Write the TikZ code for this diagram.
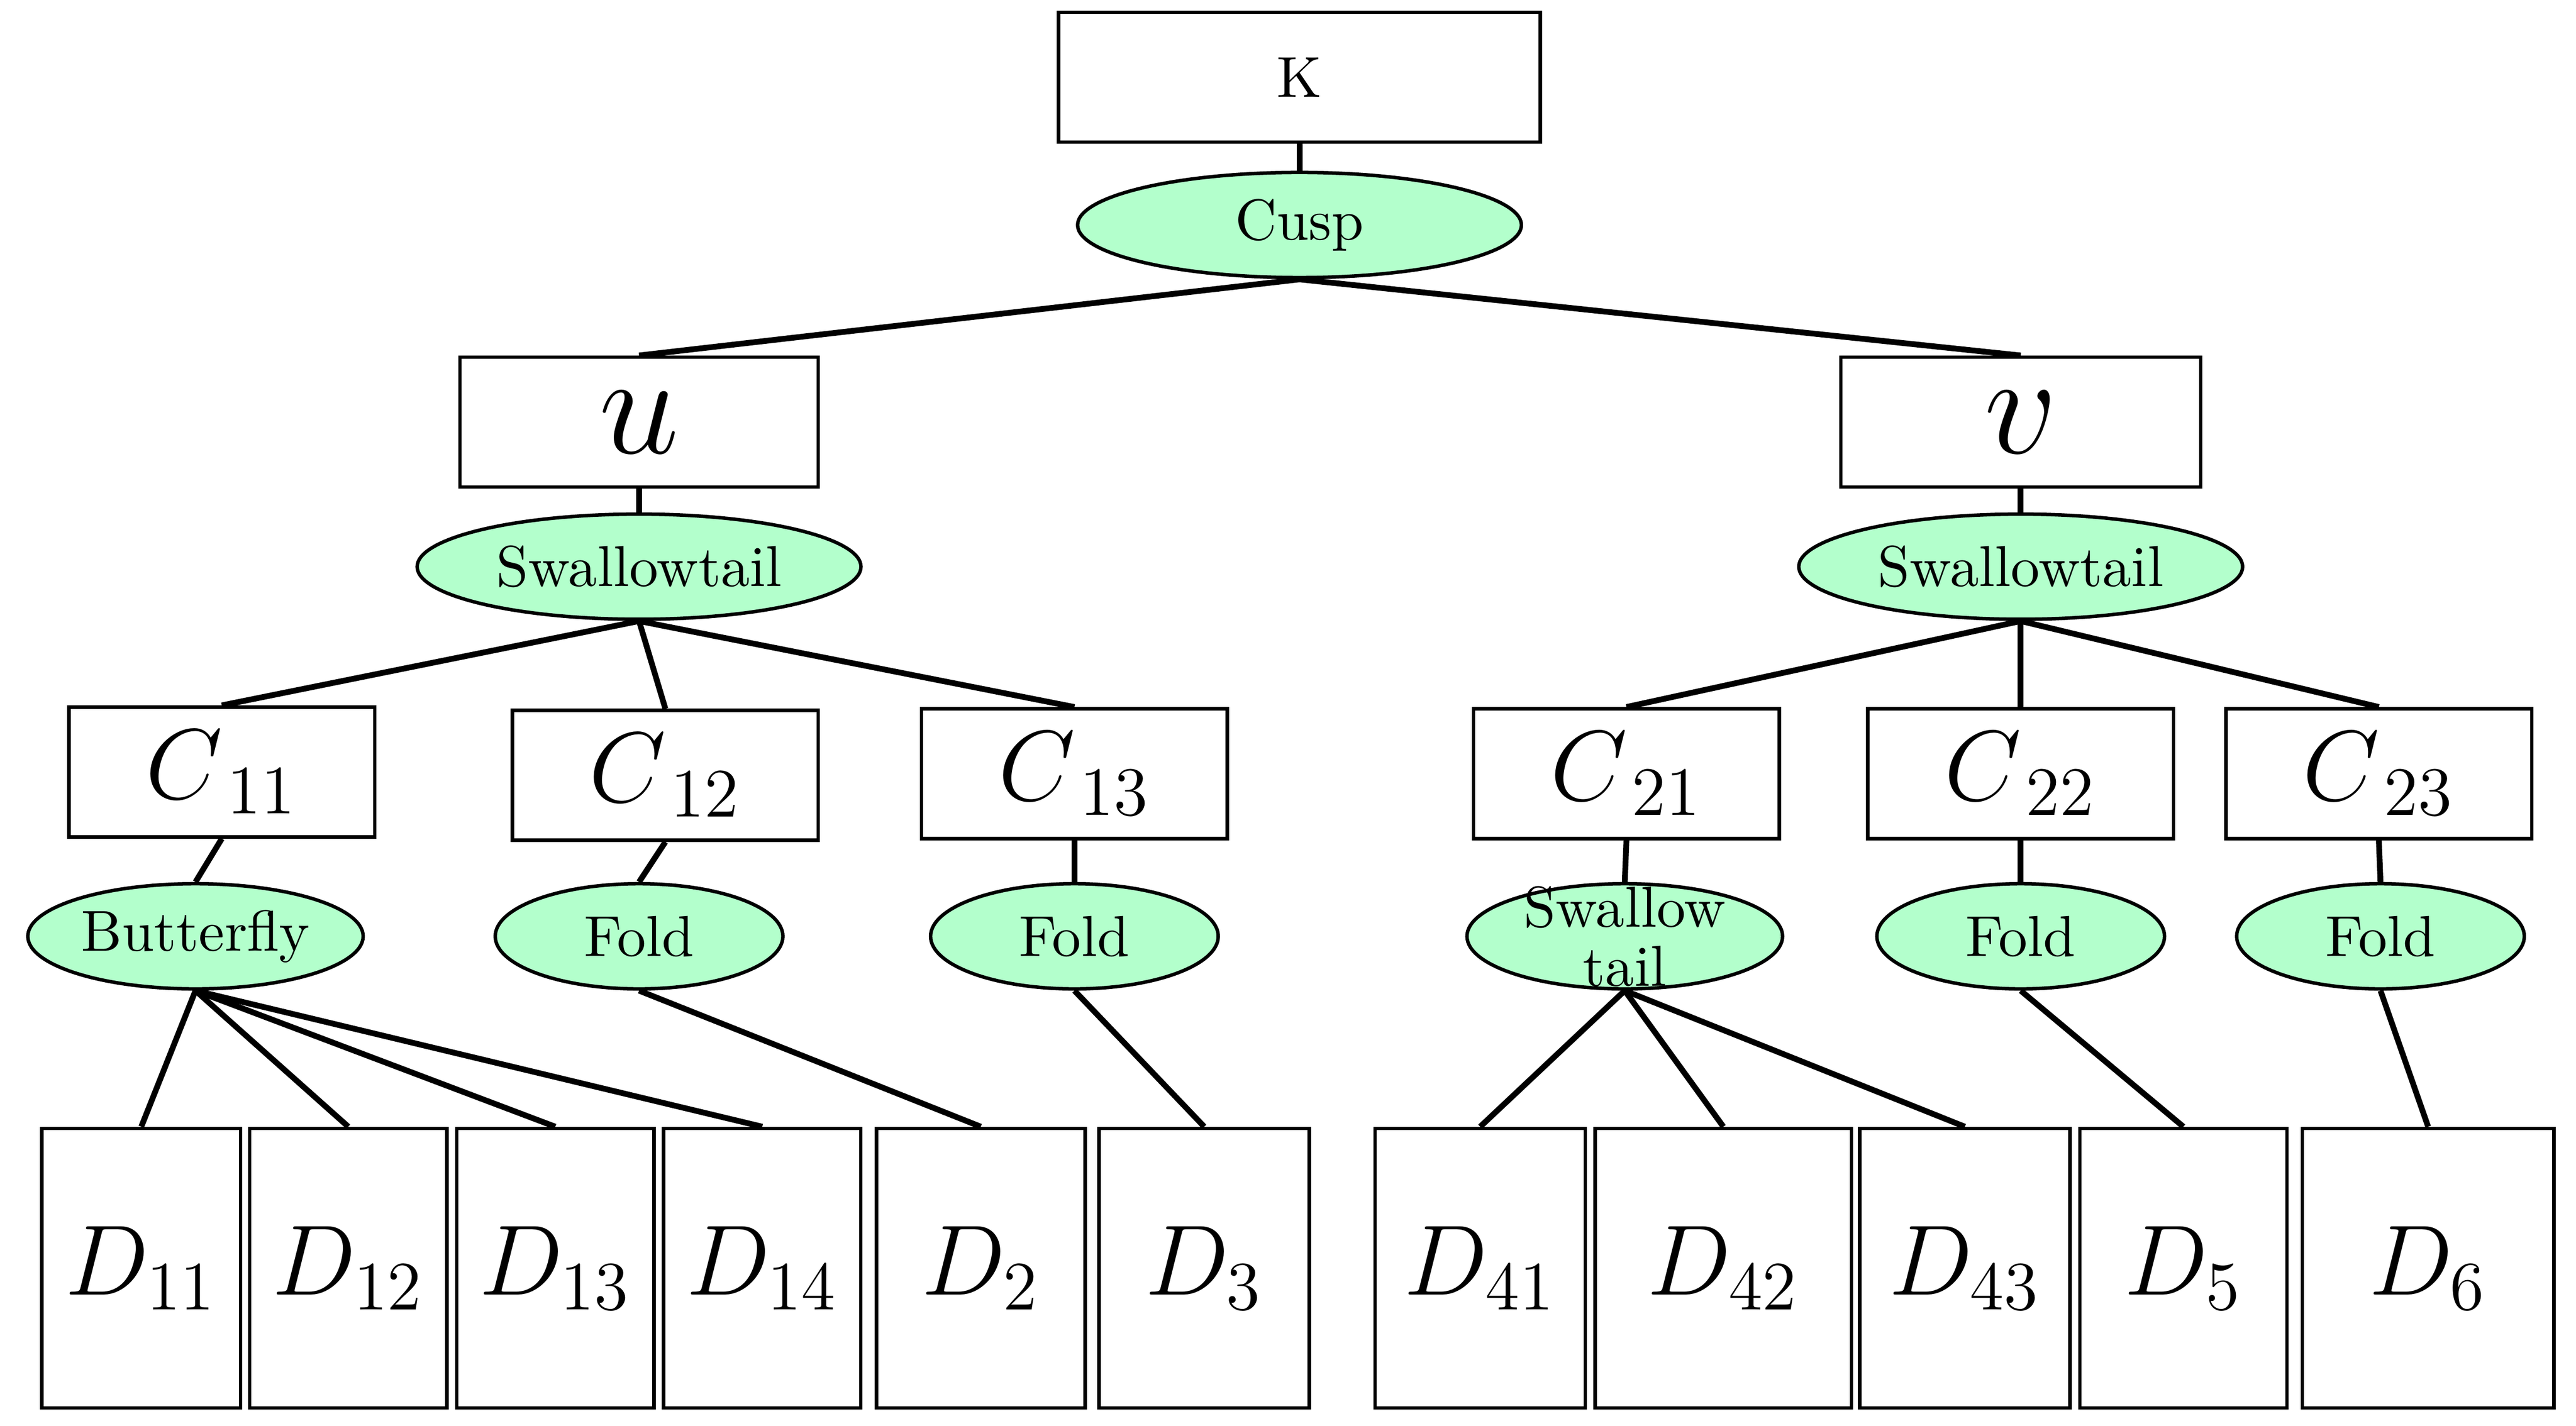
\documentclass[tikz,border=0pt]{standalone}
\usetikzlibrary{shapes.geometric}
\definecolor{eg}{HTML}{B3FFCC}
\begin{document}
\begin{tikzpicture}[x=0.01cm,y=-0.01cm,line width=1pt,
 box/.style={draw,line width=0.6pt,rectangle,inner sep=0pt},
 el/.style={draw,line width=0.6pt,ellipse,fill=eg,inner sep=0pt,minimum height=0.64cm,font=\normalsize},
 cb/.style={box,minimum width=1.86cm,minimum height=0.79cm,font=\LARGE},
 db/.style={box,minimum height=1.7cm,font=\LARGE}]
\useasboundingbox (0,0) rectangle (1568,868);
\node[box,minimum width=2.93cm,minimum height=0.79cm] (K) at (791,47) {K};
\node[el,minimum width=2.7cm] (cusp) at (791,137) {Cusp};
\node[box,minimum width=2.18cm,minimum height=0.79cm,font=\Huge] (u) at (389,257) {$u$};
\node[box,minimum width=2.19cm,minimum height=0.79cm,font=\Huge] (v) at (1230,257) {$v$};
\node[el,minimum width=2.7cm] (su) at (389,345) {Swallowtail};
\node[el,minimum width=2.7cm] (sv) at (1230,345) {Swallowtail};
\node[cb] (c11) at (135,470) {$C_{\,11}$};
\node[cb] (c12) at (405,472) {$C_{\,12}$};
\node[cb] (c13) at (654,471) {$C_{\,13}$};
\node[cb] (c21) at (990,471) {$C_{\,21}$};
\node[cb] (c22) at (1230,471) {$C_{\,22}$};
\node[cb] (c23) at (1448,471) {$C_{\,23}$};
\node[el,minimum width=2.04cm] (bf) at (119,570) {Butterfly};
\node[el,minimum width=1.75cm] (f1) at (389,570) {Fold};
\node[el,minimum width=1.75cm] (f2) at (654,570) {Fold};
\node[el,minimum width=1.92cm] (st) at (989,570) {};
\node[align=center,inner sep=0pt,font=\normalsize\linespread{0.85}\selectfont] (stt) at (st) {Swallow\\tail};
\node[el,minimum width=1.75cm] (f3) at (1230,570) {Fold};
\node[el,minimum width=1.75cm] (f4) at (1449,570) {Fold};
\node[db,minimum width=1.21cm] (d11) at (86,772) {$D_{11}$};
\node[db,minimum width=1.2cm] (d12) at (212,772) {$D_{12}$};
\node[db,minimum width=1.2cm] (d13) at (338,772) {$D_{13}$};
\node[db,minimum width=1.2cm] (d14) at (464,772) {$D_{14}$};
\node[db,minimum width=1.27cm] (d2) at (597,772) {$D_{2}$};
\node[db,minimum width=1.28cm] (d3) at (733,772) {$D_{3}$};
\node[db,minimum width=1.28cm] (d41) at (901,772) {$D_{41}$};
\node[db,minimum width=1.56cm] (d42) at (1049,772) {$D_{42}$};
\node[db,minimum width=1.28cm] (d43) at (1196,772) {$D_{43}$};
\node[db,minimum width=1.26cm] (d5) at (1329,772) {$D_{5}$};
\node[db,minimum width=1.53cm] (d6) at (1478,772) {$D_{6}$};
\draw (K) -- (cusp);
\draw (cusp.south) -- (u.north); \draw (cusp.south) -- (v.north);
\draw (u) -- (su); \draw (v) -- (sv);
\foreach \c in {c11,c12,c13} \draw (su.south) -- (\c.north);
\foreach \c in {c21,c22,c23} \draw (sv.south) -- (\c.north);
\draw (c11.south) -- (bf.north); \draw (c12.south) -- (f1.north);
\draw (c13.south) -- (f2.north); \draw (c21.south) -- (st.north);
\draw (c22.south) -- (f3.north); \draw (c23.south) -- (f4.north);
\foreach \d in {d11,d12,d13,d14} \draw (bf.south) -- (\d.north);
\draw (f1.south) -- (d2.north); \draw (f2.south) -- (d3.north);
\foreach \d in {d41,d42,d43} \draw (st.south) -- (\d.north);
\draw (f3.south) -- (d5.north); \draw (f4.south) -- (d6.north);
\end{tikzpicture}
\end{document}
